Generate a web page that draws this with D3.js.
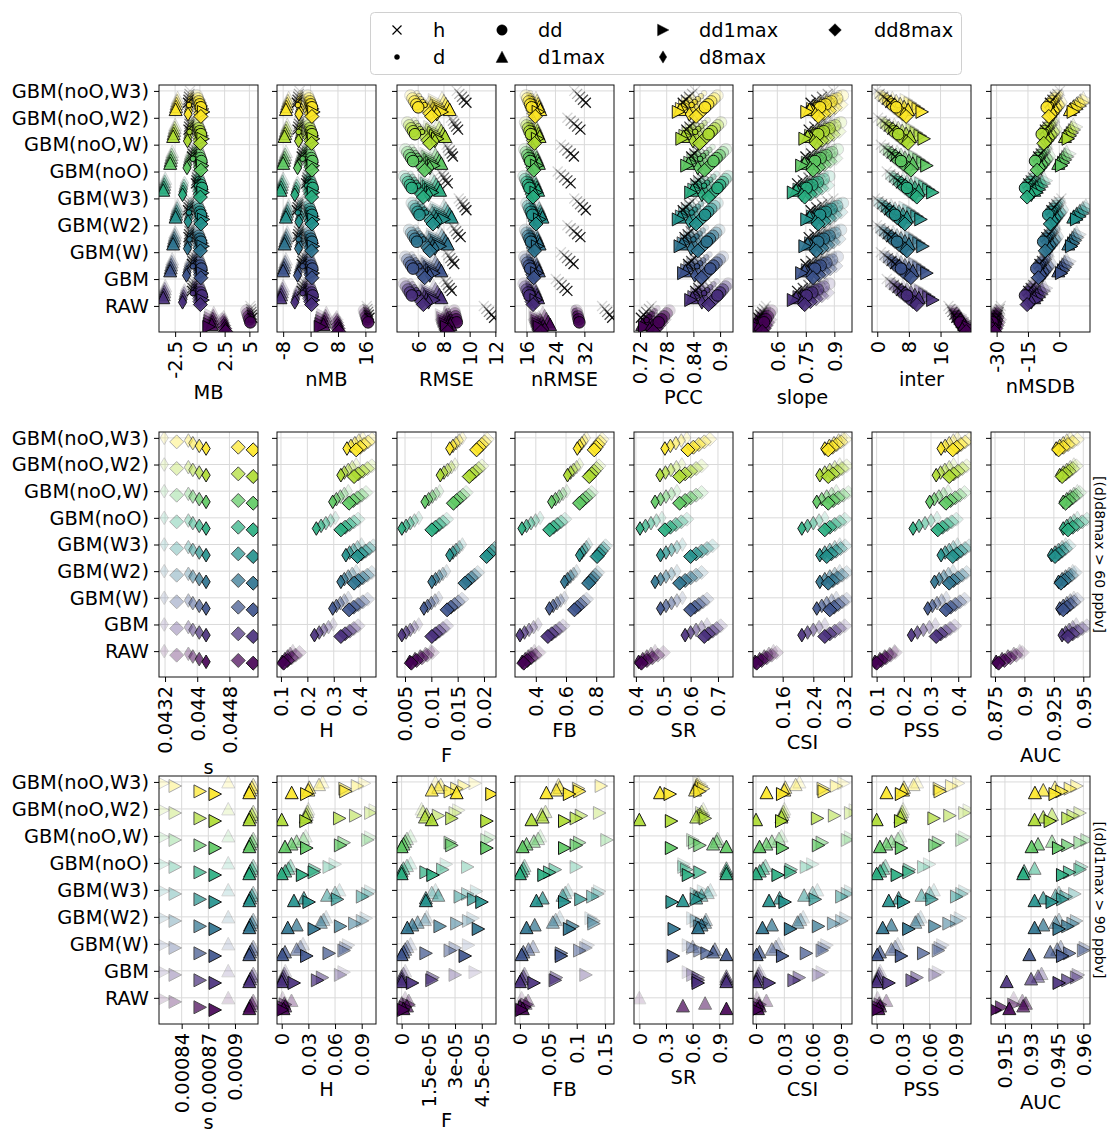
<!DOCTYPE html>
<html>
<head>
<meta charset="utf-8">
<script src="https://cdn.jsdelivr.net/npm/d3@7"></script>
<style>
body { margin: 0; background: #fff; }
svg { font-family: 'DejaVu Sans', sans-serif; }
</style>
</head>
<body>
<div class="canvas"></div>
<script>
// categories, bottom (index 0) to top
const categories = ['RAW', 'GBM', 'GBM(W)', 'GBM(W2)', 'GBM(W3)', 'GBM(noO)', 'GBM(noO,W)', 'GBM(noO,W2)', 'GBM(noO,W3)'];
const markerKeys = ['h', 'd', 'dd', 'd1max', 'dd1max', 'd8max', 'dd8max'];

// every category: 5 variants, darkest first
const mb = {
  h: [[5.3,5.25,5.2,5.15,5.1],[-0.8,-0.75,-0.7,-0.65,-0.6],[-0.8,-0.75,-0.7,-0.65,-0.6],[-1.15,-1.1,-1.05,-1,-0.95],[-1.2,-1.15,-1.1,-1.05,-1],[-0.4,-0.35,-0.3,-0.25,-0.2],[-0.8,-0.75,-0.7,-0.65,-0.6],[-1.15,-1.1,-1.05,-1,-0.95],[-1.2,-1.15,-1.1,-1.05,-1]],
  d: [[5.2,5.15,5.1,5.05,5],[-0.7,-0.65,-0.6,-0.55,-0.5],[-0.7,-0.65,-0.6,-0.55,-0.5],[-1.05,-1,-0.95,-0.9,-0.85],[-1.1,-1.05,-1,-0.95,-0.9],[-0.3,-0.25,-0.2,-0.15,-0.1],[-0.7,-0.65,-0.6,-0.55,-0.5],[-1.05,-1,-0.95,-0.9,-0.85],[-1.1,-1.05,-1,-0.95,-0.9]],
  dd: [[5.1,5,4.9,4.8,4.7],[0.2,0.1,0,-0.1,-0.2],[0.15,0.05,-0.05,-0.15,-0.25],[0.1,0,-0.1,-0.2,-0.3],[0.1,0,-0.1,-0.2,-0.3],[0.2,0.1,0,-0.1,-0.2],[0.15,0.05,-0.05,-0.15,-0.25],[0.1,0,-0.1,-0.2,-0.3],[0.1,0,-0.1,-0.2,-0.3]],
  d1max: [[1.2,1.25,1.3,1.35,1.4],[-3.7,-3.65,-3.6,-3.55,-3.5],[-3,-2.95,-2.9,-2.85,-2.8],[-2.7,-2.65,-2.6,-2.55,-2.5],[-2.45,-2.4,-2.35,-2.3,-2.25],[-3.7,-3.65,-3.6,-3.55,-3.5],[-3,-2.95,-2.9,-2.85,-2.8],[-2.7,-2.65,-2.6,-2.55,-2.5],[-2.45,-2.4,-2.35,-2.3,-2.25]],
  dd1max: [[0.9,0.95,1,1.05,1.1],[0.3,0.2,0.1,0,-0.1],[0.25,0.15,0.05,-0.05,-0.15],[0.3,0.2,0.1,0,-0.1],[0.35,0.25,0.15,0.05,-0.05],[0.3,0.2,0.1,0,-0.1],[0.25,0.15,0.05,-0.05,-0.15],[0.3,0.2,0.1,0,-0.1],[0.35,0.25,0.15,0.05,-0.05]],
  d8max: [[2.6,2.55,2.5,2.45,2.4],[-1.75,-1.7,-1.65,-1.6,-1.55],[-1.35,-1.3,-1.25,-1.2,-1.15],[-1.25,-1.2,-1.15,-1.1,-1.05],[-1.2,-1.15,-1.1,-1.05,-1],[-1.75,-1.7,-1.65,-1.6,-1.55],[-1.3,-1.25,-1.2,-1.15,-1.1],[-1.25,-1.2,-1.15,-1.1,-1.05],[-1.2,-1.15,-1.1,-1.05,-1]],
  dd8max: [[2.6,2.5,2.4,2.3,2.2],[0.05,0,-0.05,-0.1,-0.15],[0.1,0.05,0,-0.05,-0.1],[0.05,0,-0.05,-0.1,-0.15],[0.1,0.05,0,-0.05,-0.1],[0.05,0,-0.05,-0.1,-0.15],[0.1,0.05,0,-0.05,-0.1],[0.05,0,-0.05,-0.1,-0.15],[0.1,0.05,0,-0.05,-0.1]]
};

const nmb = {
  h: [[17.2,17,16.8,16.6,16.4],[-2.6,-2.4,-2.2,-2,-1.8],[-2.6,-2.4,-2.2,-2,-1.8],[-3.8,-3.6,-3.4,-3.2,-3],[-4,-3.8,-3.6,-3.4,-3.2],[-1.3,-1.1,-0.9,-0.7,-0.5],[-2.6,-2.4,-2.2,-2,-1.8],[-3.8,-3.6,-3.4,-3.2,-3],[-4,-3.8,-3.6,-3.4,-3.2]],
  d: [[16.9,16.7,16.5,16.3,16.1],[-2.3,-2.1,-1.9,-1.7,-1.5],[-2.3,-2.1,-1.9,-1.7,-1.5],[-3.5,-3.3,-3.1,-2.9,-2.7],[-3.7,-3.5,-3.3,-3.1,-2.9],[-1,-0.8,-0.6,-0.4,-0.2],[-2.3,-2.1,-1.9,-1.7,-1.5],[-3.5,-3.3,-3.1,-2.9,-2.7],[-3.7,-3.5,-3.3,-3.1,-2.9]],
  dd: [[16.8,16.5,16.2,15.9,15.6],[0.6,0.3,0,-0.3,-0.6],[0.5,0.2,-0.1,-0.4,-0.7],[0.4,0.1,-0.2,-0.5,-0.8],[0.4,0.1,-0.2,-0.5,-0.8],[0.6,0.3,0,-0.3,-0.6],[0.5,0.2,-0.1,-0.4,-0.7],[0.4,0.1,-0.2,-0.5,-0.8],[0.4,0.1,-0.2,-0.5,-0.8]],
  d1max: [[3.8,4,4.2,4.4,4.6],[-8.8,-8.6,-8.4,-8.2,-8],[-8,-7.8,-7.6,-7.4,-7.2],[-7.6,-7.4,-7.2,-7,-6.8],[-7.2,-7,-6.8,-6.6,-6.4],[-8.8,-8.6,-8.4,-8.2,-8],[-8,-7.8,-7.6,-7.4,-7.2],[-7.6,-7.4,-7.2,-7,-6.8],[-7.2,-7,-6.8,-6.6,-6.4]],
  dd1max: [[2.8,3,3.2,3.4,3.6],[0.8,0.5,0.2,-0.1,-0.4],[0.7,0.4,0.1,-0.2,-0.5],[0.8,0.5,0.2,-0.1,-0.4],[0.9,0.6,0.3,0,-0.3],[0.8,0.5,0.2,-0.1,-0.4],[0.7,0.4,0.1,-0.2,-0.5],[0.8,0.5,0.2,-0.1,-0.4],[0.9,0.6,0.3,0,-0.3]],
  d8max: [[8.4,8.2,8,7.8,7.6],[-4.6,-4.4,-4.2,-4,-3.8],[-3.8,-3.6,-3.4,-3.2,-3],[-3.5,-3.3,-3.1,-2.9,-2.7],[-3.4,-3.2,-3,-2.8,-2.6],[-4.6,-4.4,-4.2,-4,-3.8],[-3.8,-3.6,-3.4,-3.2,-3],[-3.5,-3.3,-3.1,-2.9,-2.7],[-3.4,-3.2,-3,-2.8,-2.6]],
  dd8max: [[8.2,8,7.8,7.6,7.4],[0.3,0,-0.3,-0.6,-0.9],[0.4,0.1,-0.2,-0.5,-0.8],[0.3,0,-0.3,-0.6,-0.9],[0.4,0.1,-0.2,-0.5,-0.8],[0.3,0,-0.3,-0.6,-0.9],[0.4,0.1,-0.2,-0.5,-0.8],[0.3,0,-0.3,-0.6,-0.9],[0.4,0.1,-0.2,-0.5,-0.8]]
};

const rmse = {
  h: [[11.9,11.7,11.5,11.3,11.1],[8.6,8.45,8.3,8.15,8],[8.8,8.65,8.5,8.35,8.2],[9.3,9.1,8.95,8.8,8.6],[9.75,9.6,9.45,9.3,9.15],[8.3,8.15,8,7.85,7.7],[8.7,8.6,8.45,8.3,8.2],[9.1,8.95,8.8,8.7,8.55],[9.75,9.55,9.4,9.2,9]],
  d: [[8.6,8.5,8.4,8.3,8.2],[6,5.85,5.7,5.55,5.4],[6.1,5.95,5.8,5.65,5.5],[6.4,6.25,6.1,5.95,5.8],[6.6,6.45,6.3,6.15,6],[6,5.85,5.7,5.55,5.4],[6.1,5.95,5.8,5.65,5.5],[6.3,6.15,6,5.85,5.7],[6.5,6.35,6.2,6.05,5.9]],
  dd: [[9,8.95,8.9,8.85,8.8],[5.5,5.35,5.2,5.05,4.9],[5.6,5.45,5.3,5.15,5],[5.9,5.75,5.6,5.45,5.3],[6.1,5.95,5.8,5.65,5.5],[5.5,5.35,5.2,5.05,4.9],[5.6,5.45,5.3,5.15,5],[5.75,5.6,5.45,5.3,5.15],[6,5.85,5.7,5.55,5.4]],
  d1max: [[8.5,8.4,8.3,8.2,8.1],[7.8,7.65,7.5,7.35,7.2],[7.8,7.65,7.5,7.35,7.2],[8.3,8.15,8,7.85,7.7],[8.6,8.45,8.3,8.15,8],[7.7,7.55,7.4,7.25,7.1],[7.8,7.65,7.5,7.35,7.2],[8.1,7.95,7.8,7.65,7.5],[8.45,8.3,8.15,8,7.85]],
  dd1max: [[8.2,8.1,8,7.9,7.8],[7.2,7.05,6.9,6.75,6.6],[7.2,7.05,6.9,6.75,6.6],[7.7,7.55,7.4,7.25,7.1],[8,7.85,7.7,7.55,7.4],[7.1,6.95,6.8,6.65,6.5],[7.2,7.05,6.9,6.75,6.6],[7.5,7.35,7.2,7.05,6.9],[7.85,7.7,7.55,7.4,7.25]],
  d8max: [[8.4,8.3,8.2,8.1,8],[6.8,6.65,6.5,6.35,6.2],[6.9,6.75,6.6,6.45,6.3],[7.3,7.15,7,6.85,6.7],[7.55,7.4,7.25,7.1,6.95],[6.8,6.65,6.5,6.35,6.2],[6.9,6.75,6.6,6.45,6.3],[7.3,7.15,7,6.85,6.7],[7.45,7.3,7.15,7,6.85]],
  dd8max: [[8.3,8.2,8.1,8,7.9],[6.4,6.25,6.1,5.95,5.8],[6.5,6.35,6.2,6.05,5.9],[6.9,6.75,6.6,6.45,6.3],[7.15,7,6.85,6.7,6.55],[6.4,6.25,6.1,5.95,5.8],[6.5,6.35,6.2,6.05,5.9],[6.9,6.75,6.6,6.45,6.3],[7.05,6.9,6.75,6.6,6.45]]
};

const nrmse = {
  h: [[39.7,39,38.3,37.6,36.9],[27.3,26.5,25.7,24.9,24.1],[29,28.1,27.2,26.4,25.5],[30.9,30,29.1,28.2,27.3],[32.4,31.6,30.8,30,29.2],[28.2,27.3,26.4,25.5,24.6],[29.1,28.2,27.3,26.4,25.5],[30.9,30,29.1,28.2,27.3],[32.4,31.6,30.8,30,29.2]],
  d: [[30,29.8,29.6,29.4,29.2],[17.6,17.3,17,16.7,16.4],[17.8,17.5,17.2,16.9,16.6],[18,17.7,17.4,17.1,16.8],[18.4,18.1,17.8,17.5,17.2],[17.6,17.3,17,16.7,16.4],[17.8,17.5,17.2,16.9,16.6],[18,17.7,17.4,17.1,16.8],[18.2,17.9,17.6,17.3,17]],
  dd: [[30.6,30.4,30.2,30,29.8],[16.8,16.4,16,15.6,15.2],[17,16.6,16.2,15.8,15.4],[17.2,16.8,16.4,16,15.6],[17.6,17.2,16.8,16.4,16],[16.8,16.4,16,15.6,15.2],[17,16.6,16.2,15.8,15.4],[17.2,16.8,16.4,16,15.6],[17.4,17,16.6,16.2,15.8]],
  d1max: [[22.5,22,21.5,21,20.5],[19.2,18.9,18.6,18.3,18],[19.4,19.1,18.8,18.5,18.2],[19.6,19.3,19,18.7,18.4],[20.4,20.1,19.8,19.5,19.2],[19.2,18.9,18.6,18.3,18],[19.4,19.1,18.8,18.5,18.2],[19.6,19.3,19,18.7,18.4],[19.8,19.5,19.2,18.9,18.6]],
  dd1max: [[19.5,19.2,18.9,18.6,18.3],[18.6,18.3,18,17.7,17.4],[18.8,18.5,18.2,17.9,17.6],[19,18.7,18.4,18.1,17.8],[19.6,19.3,19,18.7,18.4],[18.6,18.3,18,17.7,17.4],[18.8,18.5,18.2,17.9,17.6],[19,18.7,18.4,18.1,17.8],[19.2,18.9,18.6,18.3,18]],
  d8max: [[21,20.6,20.2,19.8,19.4],[18.3,18,17.7,17.4,17.1],[18.5,18.2,17.9,17.6,17.3],[18.7,18.4,18.1,17.8,17.5],[19.2,18.9,18.6,18.3,18],[18.3,18,17.7,17.4,17.1],[18.5,18.2,17.9,17.6,17.3],[18.7,18.4,18.1,17.8,17.5],[18.9,18.6,18.3,18,17.7]],
  dd8max: [[20,19.6,19.2,18.8,18.4],[17.8,17.5,17.2,16.9,16.6],[18,17.7,17.4,17.1,16.8],[18.2,17.9,17.6,17.3,17],[18.6,18.3,18,17.7,17.4],[17.8,17.5,17.2,16.9,16.6],[18,17.7,17.4,17.1,16.8],[18.2,17.9,17.6,17.3,17],[18.4,18.1,17.8,17.5,17.2]]
};

const pcc = {
  h: [[0.722,0.728,0.734,0.74,0.746],[0.844,0.851,0.858,0.865,0.872],[0.828,0.835,0.842,0.849,0.856],[0.82,0.827,0.834,0.841,0.848],[0.816,0.823,0.83,0.837,0.844],[0.844,0.851,0.858,0.865,0.872],[0.835,0.842,0.849,0.856,0.863],[0.824,0.831,0.838,0.845,0.852],[0.816,0.823,0.83,0.837,0.844]],
  d: [[0.735,0.741,0.747,0.753,0.759],[0.864,0.871,0.878,0.885,0.892],[0.848,0.855,0.862,0.869,0.876],[0.84,0.847,0.854,0.861,0.868],[0.836,0.843,0.85,0.857,0.864],[0.864,0.871,0.878,0.885,0.892],[0.855,0.862,0.869,0.876,0.883],[0.844,0.851,0.858,0.865,0.872],[0.836,0.843,0.85,0.857,0.864]],
  dd: [[0.762,0.768,0.774,0.78,0.786],[0.894,0.9,0.906,0.912,0.918],[0.878,0.885,0.892,0.899,0.906],[0.87,0.877,0.884,0.891,0.898],[0.866,0.873,0.88,0.887,0.894],[0.894,0.9,0.906,0.912,0.918],[0.885,0.892,0.899,0.906,0.913],[0.874,0.881,0.888,0.895,0.902],[0.866,0.873,0.88,0.887,0.894]],
  d1max: [[0.725,0.731,0.737,0.743,0.749],[0.838,0.845,0.852,0.859,0.866],[0.822,0.829,0.836,0.843,0.85],[0.814,0.821,0.828,0.835,0.842],[0.81,0.817,0.824,0.831,0.838],[0.838,0.845,0.852,0.859,0.866],[0.829,0.836,0.843,0.85,0.857],[0.818,0.825,0.832,0.839,0.846],[0.81,0.817,0.824,0.831,0.838]],
  dd1max: [[0.73,0.736,0.742,0.748,0.754],[0.834,0.841,0.848,0.855,0.862],[0.818,0.825,0.832,0.839,0.846],[0.81,0.817,0.824,0.831,0.838],[0.806,0.813,0.82,0.827,0.834],[0.834,0.841,0.848,0.855,0.862],[0.825,0.832,0.839,0.846,0.853],[0.814,0.821,0.828,0.835,0.842],[0.806,0.813,0.82,0.827,0.834]],
  d8max: [[0.742,0.748,0.754,0.76,0.766],[0.859,0.866,0.873,0.88,0.887],[0.843,0.85,0.857,0.864,0.871],[0.835,0.842,0.849,0.856,0.863],[0.831,0.838,0.845,0.852,0.859],[0.859,0.866,0.873,0.88,0.887],[0.85,0.857,0.864,0.871,0.878],[0.839,0.846,0.853,0.86,0.867],[0.831,0.838,0.845,0.852,0.859]],
  dd8max: [[0.75,0.756,0.762,0.768,0.774],[0.874,0.881,0.888,0.895,0.902],[0.858,0.865,0.872,0.879,0.886],[0.85,0.857,0.864,0.871,0.878],[0.846,0.853,0.86,0.867,0.874],[0.874,0.881,0.888,0.895,0.902],[0.865,0.872,0.879,0.886,0.893],[0.854,0.861,0.868,0.875,0.882],[0.846,0.853,0.86,0.867,0.874]]
};

const slope = {
  h: [[0.5,0.51,0.52,0.53,0.54],[0.704,0.734,0.764,0.794,0.824],[0.748,0.778,0.808,0.838,0.868],[0.765,0.795,0.825,0.855,0.885],[0.775,0.805,0.835,0.865,0.895],[0.704,0.734,0.764,0.794,0.824],[0.748,0.778,0.808,0.838,0.868],[0.765,0.795,0.825,0.855,0.885],[0.775,0.805,0.835,0.865,0.895]],
  d: [[0.51,0.52,0.53,0.54,0.55],[0.734,0.764,0.794,0.824,0.854],[0.778,0.808,0.838,0.868,0.898],[0.795,0.825,0.855,0.885,0.915],[0.805,0.835,0.865,0.895,0.925],[0.734,0.764,0.794,0.824,0.854],[0.778,0.808,0.838,0.868,0.898],[0.795,0.825,0.855,0.885,0.915],[0.805,0.835,0.865,0.895,0.925]],
  dd: [[0.53,0.54,0.55,0.56,0.57],[0.754,0.784,0.814,0.844,0.874],[0.798,0.828,0.858,0.888,0.918],[0.815,0.845,0.875,0.905,0.935],[0.825,0.855,0.885,0.915,0.945],[0.754,0.784,0.814,0.844,0.874],[0.798,0.828,0.858,0.888,0.918],[0.815,0.845,0.875,0.905,0.935],[0.825,0.855,0.885,0.915,0.945]],
  d1max: [[0.48,0.49,0.5,0.51,0.52],[0.699,0.729,0.759,0.789,0.819],[0.743,0.773,0.803,0.833,0.863],[0.76,0.79,0.82,0.85,0.88],[0.77,0.8,0.83,0.86,0.89],[0.699,0.729,0.759,0.789,0.819],[0.743,0.773,0.803,0.833,0.863],[0.76,0.79,0.82,0.85,0.88],[0.77,0.8,0.83,0.86,0.89]],
  dd1max: [[0.49,0.5,0.51,0.52,0.53],[0.684,0.714,0.744,0.774,0.804],[0.728,0.758,0.788,0.818,0.848],[0.745,0.775,0.805,0.835,0.865],[0.755,0.785,0.815,0.845,0.875],[0.684,0.714,0.744,0.774,0.804],[0.728,0.758,0.788,0.818,0.848],[0.745,0.775,0.805,0.835,0.865],[0.755,0.785,0.815,0.845,0.875]],
  d8max: [[0.5,0.51,0.52,0.53,0.54],[0.729,0.759,0.789,0.819,0.849],[0.773,0.803,0.833,0.863,0.893],[0.79,0.82,0.85,0.88,0.91],[0.8,0.83,0.86,0.89,0.92],[0.729,0.759,0.789,0.819,0.849],[0.773,0.803,0.833,0.863,0.893],[0.79,0.82,0.85,0.88,0.91],[0.8,0.83,0.86,0.89,0.92]],
  dd8max: [[0.52,0.53,0.54,0.55,0.56],[0.744,0.774,0.804,0.834,0.864],[0.788,0.818,0.848,0.878,0.908],[0.805,0.835,0.865,0.895,0.925],[0.815,0.845,0.875,0.905,0.935],[0.744,0.774,0.804,0.834,0.864],[0.788,0.818,0.848,0.878,0.908],[0.805,0.835,0.865,0.895,0.925],[0.815,0.845,0.875,0.905,0.935]]
};

const inter = {
  h: [[20,19.5,19,18.5,18],[6,5.1,4.2,3.3,2.4],[4.5,3.6,2.7,1.8,0.9],[3.5,2.6,1.7,0.8,-0.1],[3,2.1,1.2,0.3,-0.6],[6,5.1,4.2,3.3,2.4],[4.5,3.6,2.7,1.8,0.9],[3.8,2.9,2,1.1,0.2],[3.3,2.4,1.5,0.6,-0.3]],
  d: [[20.5,20,19.5,19,18.5],[8,7,6,5,4],[6.5,5.5,4.5,3.5,2.5],[5.5,4.5,3.5,2.5,1.5],[5,4,3,2,1],[8,7,6,5,4],[6.5,5.5,4.5,3.5,2.5],[5.8,4.8,3.8,2.8,1.8],[5.3,4.3,3.3,2.3,1.3]],
  dd: [[21,20.6,20.2,19.8,19.4],[7.5,6.5,5.5,4.5,3.5],[6,5,4,3,2],[5,4,3,2,1],[4.5,3.5,2.5,1.5,0.5],[7.5,6.5,5.5,4.5,3.5],[6,5,4,3,2],[5.3,4.3,3.3,2.3,1.3],[4.8,3.8,2.8,1.8,0.8]],
  d1max: [[22,21.5,21,20.5,20],[10.5,9.5,8.5,7.5,6.5],[9,8,7,6,5],[8,7,6,5,4],[7.5,6.5,5.5,4.5,3.5],[10.5,9.5,8.5,7.5,6.5],[9,8,7,6,5],[8.3,7.3,6.3,5.3,4.3],[7.8,6.8,5.8,4.8,3.8]],
  dd1max: [[23,22.5,22,21.5,21],[14,13,12,11,10],[12.5,11.5,10.5,9.5,8.5],[11.5,10.5,9.5,8.5,7.5],[11,10,9,8,7],[14,13,12,11,10],[12.5,11.5,10.5,9.5,8.5],[11.8,10.8,9.8,8.8,7.8],[11.3,10.3,9.3,8.3,7.3]],
  d8max: [[21.5,21,20.5,20,19.5],[9.5,8.5,7.5,6.5,5.5],[8,7,6,5,4],[7,6,5,4,3],[6.5,5.5,4.5,3.5,2.5],[9.5,8.5,7.5,6.5,5.5],[8,7,6,5,4],[7.3,6.3,5.3,4.3,3.3],[6.8,5.8,4.8,3.8,2.8]],
  dd8max: [[22.5,22,21.5,21,20.5],[10,9,8,7,6],[8.5,7.5,6.5,5.5,4.5],[7.5,6.5,5.5,4.5,3.5],[7,6,5,4,3],[10,9,8,7,6],[8.5,7.5,6.5,5.5,4.5],[7.8,6.8,5.8,4.8,3.8],[7.3,6.3,5.3,4.3,3.3]]
};

const nmsdb = {
  h: [[-30,-29.5,-29,-28.5,-28],[-14.9,-13.7,-12.5,-11.3,-10.1],[-9.5,-8.3,-7.1,-5.9,-4.7],[-6.2,-5,-3.8,-2.6,-1.4],[-3.8,-2.6,-1.4,-0.2,1],[-14.9,-13.7,-12.5,-11.3,-10.1],[-10.1,-8.9,-7.7,-6.5,-5.3],[-6.9,-5.7,-4.5,-3.3,-2.1],[-4.5,-3.3,-2.1,-0.9,0.3]],
  d: [[-31.5,-31,-30.5,-30,-29.5],[-14.4,-13.2,-12,-10.8,-9.6],[-9,-7.8,-6.6,-5.4,-4.2],[-5.7,-4.5,-3.3,-2.1,-0.9],[-3.3,-2.1,-0.9,0.3,1.5],[-14.4,-13.2,-12,-10.8,-9.6],[-9.6,-8.4,-7.2,-6,-4.8],[-6.4,-5.2,-4,-2.8,-1.6],[-4,-2.8,-1.6,-0.4,0.8]],
  dd: [[-32,-31.4,-30.8,-30.2,-29.6],[-16.4,-15.2,-14,-12.8,-11.6],[-11,-9.8,-8.6,-7.4,-6.2],[-7.7,-6.5,-5.3,-4.1,-2.9],[-5.3,-4.1,-2.9,-1.7,-0.5],[-16.4,-15.2,-14,-12.8,-11.6],[-11.6,-10.4,-9.2,-8,-6.8],[-8.4,-7.2,-6,-4.8,-3.6],[-6,-4.8,-3.6,-2.4,-1.2]],
  d1max: [[-32.4,-31.8,-31.2,-30.6,-30],[-12,-10.8,-9.6,-8.4,-7.2],[-0.5,0.5,1.5,2.5,3.5],[4.3,5.3,6.3,7.3,8.3],[6.7,8.2,9.7,11.2,12.7],[-12,-10.8,-9.6,-8.4,-7.2],[-0.5,0.5,1.5,2.5,3.5],[2.7,3.7,4.7,5.7,6.7],[5.1,6.7,8.3,9.9,11.5]],
  dd1max: [[-31,-30.5,-30,-29.5,-29],[-11,-9.8,-8.6,-7.4,-6.2],[1,2,3,4,5],[5.8,6.8,7.8,8.8,9.8],[8.2,9.7,11.2,12.7,14.2],[-11,-9.8,-8.6,-7.4,-6.2],[1,2,3,4,5],[4.2,5.2,6.2,7.2,8.2],[6.6,8.2,9.8,11.4,13]],
  d8max: [[-30.5,-30,-29.5,-29,-28.5],[-13.4,-12.2,-11,-9.8,-8.6],[-8,-6.8,-5.6,-4.4,-3.2],[-4.7,-3.5,-2.3,-1.1,0.1],[-2.3,-1.1,0.1,1.3,2.5],[-13.4,-12.2,-11,-9.8,-8.6],[-8.6,-7.4,-6.2,-5,-3.8],[-5.4,-4.2,-3,-1.8,-0.6],[-3,-1.8,-0.6,0.6,1.8]],
  dd8max: [[-31,-30.4,-29.8,-29.2,-28.6],[-15.4,-14.2,-13,-11.8,-10.6],[-10,-8.8,-7.6,-6.4,-5.2],[-6.7,-5.5,-4.3,-3.1,-1.9],[-4.3,-3.1,-1.9,-0.7,0.5],[-15.4,-14.2,-13,-11.8,-10.6],[-10.6,-9.4,-8.2,-7,-5.8],[-7.4,-6.2,-5,-3.8,-2.6],[-5,-3.8,-2.6,-1.4,-0.2]]
};

// row 2: (d)d8max > 60 ppbv
const r2sThin = [0.04422, 0.04405, 0.04389, 0.04378, 0.04318];
const r2sBig = [0.04539, 0.04502, null, 0.04349, null];
const r2H = {
  d8max: [[0.105,0.115,0.125,0.135,0.145],[0.227,0.245,0.262,0.28,0.298],[0.296,0.31,0.325,0.34,0.355],[0.327,0.34,0.355,0.37,0.385],[0.346,0.36,0.375,0.39,0.405],[0.234,0.252,0.27,0.288,0.306],[0.296,0.31,0.325,0.34,0.355],[0.327,0.34,0.355,0.37,0.385],[0.35,0.365,0.38,0.395,0.41]],
  dd8max: [[0.11,0.125,0.14,0.155,0.17],[0.327,0.343,0.36,0.376,0.392],[0.358,0.375,0.392,0.41,0.428],[0.377,0.393,0.41,0.427,0.444],[0.39,0.405,0.42,0.435,0.45],[0.327,0.343,0.36,0.376,0.392],[0.358,0.374,0.39,0.406,0.422],[0.377,0.393,0.41,0.427,0.444],[0.385,0.4,0.415,0.43,0.445]]
};
const r2F = {
  d8max: [[0.0059,0.0069,0.0079,0.0089,0.0099],[0.0044,0.0052,0.006,0.0068,0.0076],[0.0086,0.0093,0.01,0.0107,0.0114],[0.0101,0.0108,0.0115,0.0122,0.0129],[0.0135,0.0141,0.0147,0.0153,0.0159],[0.0044,0.0052,0.006,0.0068,0.0076],[0.0088,0.0095,0.0102,0.0109,0.0116],[0.0117,0.0124,0.0131,0.0138,0.0145],[0.0135,0.0141,0.0147,0.0153,0.0159]],
  dd8max: [[0.0062,0.0072,0.0082,0.0092,0.0102],[0.0101,0.0108,0.0115,0.0122,0.0129],[0.013,0.0137,0.0144,0.0151,0.0158],[0.0164,0.017,0.0176,0.0182,0.0188],[0.0205,0.021,0.0215,0.022,0.0225],[0.0101,0.0108,0.0115,0.0122,0.0129],[0.0142,0.0148,0.0154,0.016,0.0166],[0.0172,0.0178,0.0184,0.019,0.0196],[0.0186,0.0191,0.0196,0.0201,0.0206]]
};
const r2FB = {
  d8max: [[0.31,0.33,0.35,0.37,0.39],[0.295,0.325,0.355,0.385,0.415],[0.49,0.515,0.54,0.565,0.59],[0.59,0.61,0.63,0.65,0.67],[0.69,0.705,0.72,0.735,0.75],[0.308,0.338,0.368,0.398,0.428],[0.505,0.53,0.555,0.58,0.605],[0.61,0.63,0.65,0.67,0.69],[0.675,0.69,0.705,0.72,0.735]],
  dd8max: [[0.32,0.345,0.37,0.395,0.42],[0.48,0.505,0.53,0.555,0.58],[0.656,0.676,0.696,0.716,0.736],[0.75,0.765,0.78,0.795,0.81],[0.806,0.82,0.834,0.848,0.862],[0.492,0.517,0.542,0.567,0.592],[0.69,0.71,0.73,0.75,0.77],[0.754,0.77,0.786,0.802,0.818],[0.787,0.8,0.813,0.826,0.839]]
};
const r2SR = {
  d8max: [[0.41,0.425,0.44,0.455,0.47],[0.58,0.6,0.62,0.64,0.66],[0.49,0.51,0.53,0.55,0.57],[0.47,0.49,0.51,0.53,0.55],[0.49,0.51,0.53,0.55,0.57],[0.415,0.435,0.455,0.475,0.495],[0.47,0.49,0.51,0.53,0.55],[0.488,0.508,0.528,0.548,0.568],[0.506,0.526,0.546,0.566,0.586]],
  dd8max: [[0.42,0.44,0.46,0.48,0.5],[0.65,0.665,0.68,0.695,0.71],[0.6,0.615,0.63,0.645,0.66],[0.56,0.58,0.6,0.62,0.64],[0.6,0.62,0.64,0.66,0.68],[0.506,0.526,0.546,0.566,0.586],[0.56,0.58,0.6,0.62,0.64],[0.56,0.58,0.6,0.62,0.64],[0.59,0.61,0.63,0.65,0.67]]
};
const r2CSI = {
  d8max: [[0.088,0.1,0.112,0.124,0.136],[0.21,0.225,0.24,0.255,0.27],[0.249,0.262,0.275,0.288,0.3],[0.257,0.27,0.283,0.296,0.309],[0.257,0.27,0.283,0.296,0.309],[0.21,0.225,0.24,0.255,0.27],[0.249,0.262,0.275,0.288,0.3],[0.257,0.27,0.283,0.296,0.309],[0.27,0.282,0.294,0.306,0.318]],
  dd8max: [[0.092,0.105,0.118,0.131,0.144],[0.27,0.283,0.296,0.309,0.322],[0.283,0.294,0.305,0.316,0.327],[0.279,0.291,0.303,0.315,0.327],[0.275,0.287,0.299,0.311,0.323],[0.27,0.283,0.296,0.309,0.322],[0.279,0.292,0.305,0.318,0.331],[0.279,0.291,0.303,0.315,0.327],[0.279,0.29,0.301,0.312,0.323]]
};
const r2PSS = {
  d8max: [[0.094,0.112,0.13,0.148,0.166],[0.228,0.25,0.272,0.294,0.316],[0.288,0.305,0.322,0.339,0.356],[0.313,0.33,0.347,0.364,0.381],[0.337,0.352,0.367,0.382,0.397],[0.234,0.256,0.278,0.3,0.322],[0.295,0.312,0.329,0.346,0.363],[0.319,0.335,0.351,0.367,0.383],[0.337,0.352,0.367,0.382,0.397]],
  dd8max: [[0.1,0.117,0.134,0.151,0.168],[0.319,0.336,0.353,0.37,0.387],[0.355,0.372,0.389,0.406,0.423],[0.367,0.383,0.399,0.415,0.431],[0.38,0.395,0.41,0.425,0.44],[0.325,0.342,0.359,0.376,0.393],[0.355,0.372,0.389,0.406,0.423],[0.367,0.383,0.399,0.415,0.431],[0.38,0.395,0.41,0.425,0.44]]
};
const r2AUC = {
  d8max: [[0.876,0.881,0.886,0.891,0.896],[0.932,0.935,0.938,0.941,0.944],[0.93,0.933,0.936,0.939,0.942],[0.929,0.932,0.935,0.938,0.941],[0.923,0.926,0.929,0.932,0.935],[0.933,0.936,0.939,0.942,0.945],[0.933,0.936,0.939,0.942,0.945],[0.93,0.933,0.936,0.939,0.942],[0.927,0.93,0.933,0.936,0.939]],
  dd8max: [[0.878,0.883,0.888,0.893,0.898],[0.937,0.941,0.945,0.949,0.953],[0.933,0.936,0.939,0.942,0.945],[0.931,0.934,0.937,0.94,0.943],[0.926,0.929,0.932,0.935,0.938],[0.937,0.941,0.945,0.949,0.953],[0.935,0.938,0.941,0.944,0.947],[0.932,0.935,0.938,0.941,0.944],[0.929,0.933,0.937,0.941,0.945]]
};

// row 3: (d)d1max > 90 ppbv
const r3sUp = [0.0009161, 0.000917, 0.000919, 0.0009206, 0.0008924];
const r3sRight = [0.0008775, 0.0008606, null, 0.0008325, 0.0008193];
const r3H = {
  d1max: [[0.002,0.004,0.003,0.011,0.001],[0,0.001,0.002,0.003,0.004],[0.0007,0.0037,0.0168,0.021,0.024],[0.0068,0.0168,0.044,0.047,0.05],[0.0138,0.025,0.051,0.06,0.065],[0,0.004,0.0075,0.01,null],[0.0037,0.011,0.0168,0.0243,0.027],[0,0.027,0.028,0.029,0.03],[0.0112,0.03,0.031,0.042,0.046]],
  dd1max: [[0.0007,0.002,0.004,null,null],[0.0138,0.0401,0.0457,0.066,0.07],[0.028,0.0532,0.07,0.072,0.075],[0.0364,0.066,0.082,0.0907,0.095],[0.0306,0.0626,0.0907,0.0967,0.1],[0.0232,0.0364,0.037,0.0532,0.06],[0.028,0.066,0.07,0.0967,0.1],[0.027,0.065,0.083,0.1,0.105],[0.028,0.072,0.071,0.085,0.093]]
};
const r3F = {
  d1max: [[1e-6,3e-6,0,4e-6,2e-6],[0,0,0,1e-6,2e-6],[0,1e-6,2e-6,3.2e-6,5e-6],[3.2e-6,6e-6,9e-6,1.31e-5,1.4e-5],[1.36e-5,1.36e-5,2.06e-5,1.69e-5,1.9e-5],[0,0,1e-6,3e-6,5e-6],[0,1e-6,2e-6,3e-6,5e-6],[1.69e-5,1.31e-5,1.4e-5,1.2e-5,1.12e-5],[3.09e-5,1.69e-5,2.06e-5,2.2e-5,1.9e-5]],
  dd1max: [[1e-6,2e-6,4e-6,null,null],[6e-6,1.69e-5,1.75e-5,3e-5,4.12e-5],[3.56e-5,1.36e-5,2.72e-5,3e-5,3.75e-5],[4.3e-5,2.15e-5,3.09e-5,3.75e-5,4e-5],[4.5e-5,4.03e-5,3.28e-5,3.7e-5,4.2e-5],[1.75e-5,1.36e-5,2.3e-5,3.7e-5,2.5e-5],[4.78e-5,2.81e-5,2.72e-5,4.78e-5,5e-5],[4.78e-5,2.81e-5,2.06e-5,3e-5,3.2e-5],[5.06e-5,2.72e-5,3.09e-5,3.5e-5,4.12e-5]]
};
const r3FB = {
  d1max: [[0.005,0,0.01,0.0145,0.003],[0,0.003,0.006,0.008,null],[0.003,0.006,0.015,0.0232,null],[0.0116,0.026,0.058,0.063,0.07],[0.029,0.04,0.075,0.08,0.085],[0,0.003,0.006,0.008,null],[0.0047,0.0116,0.0245,0.032,0.036],[0.0204,0.04,0.038,0.045,null],[0.0466,0.064,0.07,0.068,null]],
  dd1max: [[0.003,0.008,0.012,null,null],[0.0245,0.062,0.064,0.116,null],[0.0727,0.0727,0.105,0.116,0.12],[0.087,0.093,0.13,0.13,0.125],[0.0785,0.107,0.128,0.137,0.14],[0.042,0.052,0.062,0.099,null],[0.0785,0.099,0.105,0.153,null],[0.0785,0.099,0.108,0.14,null],[0.087,0.105,0.103,0.143,null]]
};
const r3SR = {
  d1max: [[0.98,0.49,0.74,null,0],[0.98,0.98,0.98,null,null],[0.98,0.83,0.85,0.6,null],[0.66,0.7,0.74,0.75,null],[0.49,0.64,0.7,0.77,0.8],[0.98,0.98,0.98,null,null],[0.98,0.83,0.87,0.88,null],[0,0.64,0.68,0.7,0.72],[0.233,0.627,0.64,0.65,0.66]],
  dd1max: [[null,null,null,null,null],[0.66,0.66,0.66,0.6,0.55],[0.38,0.76,0.68,0.6,0.55],[0.39,0.68,0.7,0.64,0.6],[0.367,0.64,0.68,0.64,0.72],[0.55,0.68,0.53,0.5,0.5],[0.36,0.68,0.62,0.6,null],[0.36,0.74,0.72,0.7,null],[0.345,0.68,0.72,0.7,0.68]]
};
const r3CSI = r3H;
const r3PSS = r3H;
const r3AUC = {
  d1max: [[0.9175,0.9255,0.927,0.925,0.92],[0.916,0.93,0.934,0.936,null],[0.929,0.941,0.945,0.947,null],[0.932,0.937,0.944,0.946,null],[0.932,0.937,0.944,0.946,null],[0.9255,0.926,0.932,null,null],[0.9303,0.934,0.942,null,null],[0.932,0.937,0.942,null,null],[0.9322,0.937,0.9437,null,null]],
  dd1max: [[0.9093,0.913,0.92,null,null],[0.946,0.951,0.956,0.957,null],[0.948,0.952,0.96,0.961,null],[0.946,0.951,0.954,0.956,null],[0.942,0.948,0.95,0.955,null],[0.948,0.952,0.958,0.959,null],[0.9457,0.951,0.958,0.962,null],[0.9409,0.951,0.954,0.958,null],[0.9437,0.9476,0.9524,0.9562,null]]
};

// ---------------- layout ----------------
const colLeft = [159, 277, 397, 515, 634, 753, 872, 991];
const colWidth = 99;
const rowBox = [[85, 332], [432, 677], [776, 1024]];
const yDomain = [-0.97, 8.22];
const alphas = [0.9, 0.7, 0.5, 0.32, 0.16];
const fontSize = 19.4;

const rows = [
  { markers: markerKeys, mStep: 0.085, vStep: 0.11, panels: [
    { label: 'MB', domain: [-4.13, 5.87], ticks: [-2.5, 0, 2.5, 5], labels: ['-2.5', '0', '2.5', '5'], data: mb },
    { label: 'nMB', domain: [-9.8, 19.1], ticks: [-8, 0, 8, 16], labels: ['-8', '0', '8', '16'], data: nmb },
    { label: 'RMSE', domain: [4.35, 12.05], ticks: [6, 8, 10, 12], labels: ['6', '8', '10', '12'], data: rmse },
    { label: 'nRMSE', domain: [12.8, 40.2], ticks: [16, 24, 32], labels: ['16', '24', '32'], data: nrmse },
    { label: 'PCC', domain: [0.7065, 0.929], ticks: [0.72, 0.78, 0.84, 0.9], labels: ['0.72', '0.78', '0.84', '0.9'], data: pcc },
    { label: 'slope', domain: [0.472, 0.993], ticks: [0.6, 0.75, 0.9], labels: ['0.6', '0.75', '0.9'], data: slope },
    { label: 'inter', domain: [-1.33, 23.7], ticks: [0, 8, 16], labels: ['0', '8', '16'], data: inter },
    { label: 'nMSDB', domain: [-32.7, 14.7], ticks: [-30, -15, 0], labels: ['-30', '-15', '0'], data: nmsdb }
  ]},
  { markers: ['d8max', 'dd8max'], mStep: 0.05, vStep: 0.1, side: '[(d)d8max > 60 ppbv]', panels: [
    { label: 's', domain: [0.04305, 0.04551], ticks: [0.0432, 0.044, 0.0448], labels: ['0.0432', '0.044', '0.0448'],
      data: { d8max: categories.map(() => r2sThin), dd8max: categories.map(() => r2sBig) } },
    { label: 'H', domain: [0.085, 0.46], ticks: [0.1, 0.2, 0.3, 0.4], labels: ['0.1', '0.2', '0.3', '0.4'], data: r2H },
    { label: 'F', domain: [0.00348, 0.02228], ticks: [0.005, 0.01, 0.015, 0.02], labels: ['0.005', '0.01', '0.015', '0.02'], data: r2F },
    { label: 'FB', domain: [0.262, 0.918], ticks: [0.4, 0.6, 0.8], labels: ['0.4', '0.6', '0.8'], data: r2FB },
    { label: 'SR', domain: [0.393, 0.755], ticks: [0.4, 0.5, 0.6, 0.7], labels: ['0.4', '0.5', '0.6', '0.7'], data: r2SR },
    { label: 'CSI', domain: [0.0825, 0.341], ticks: [0.16, 0.24, 0.32], labels: ['0.16', '0.24', '0.32'], data: r2CSI },
    { label: 'PSS', domain: [0.083, 0.447], ticks: [0.1, 0.2, 0.3, 0.4], labels: ['0.1', '0.2', '0.3', '0.4'], data: r2PSS },
    { label: 'AUC', domain: [0.8716, 0.9557], ticks: [0.875, 0.9, 0.925, 0.95], labels: ['0.875', '0.9', '0.925', '0.95'], data: r2AUC }
  ]},
  { markers: ['d1max', 'dd1max'], mStep: 0.05, vStep: 0.1, side: '[(d)d1max > 90 ppbv]', panels: [
    { label: 's', domain: [0.0008145, 0.0009259], ticks: [0.00084, 0.00087, 0.0009], labels: ['0.00084', '0.00087', '0.0009'],
      data: { d1max: categories.map(() => r3sUp), dd1max: categories.map(() => r3sRight) } },
    { label: 'H', domain: [-0.0053, 0.1061], ticks: [0, 0.03, 0.06, 0.09], labels: ['0', '0.03', '0.06', '0.09'], data: r3H },
    { label: 'F', domain: [-2.6e-6, 5.3e-5], ticks: [0, 1.5e-5, 3e-5, 4.5e-5], labels: ['0', '1.5e-05', '3e-05', '4.5e-05'], data: r3F },
    { label: 'FB', domain: [-0.0087, 0.1657], ticks: [0, 0.05, 0.1, 0.15], labels: ['0', '0.05', '0.1', '0.15'], data: r3FB },
    { label: 'SR', domain: [-0.06, 1.054], ticks: [0, 0.3, 0.6, 0.9], labels: ['0', '0.3', '0.6', '0.9'], data: r3SR },
    { label: 'CSI', domain: [-0.0032, 0.1017], ticks: [0, 0.03, 0.06, 0.09], labels: ['0', '0.03', '0.06', '0.09'], data: r3CSI },
    { label: 'PSS', domain: [-0.0053, 0.1072], ticks: [0, 0.03, 0.06, 0.09], labels: ['0', '0.03', '0.06', '0.09'], data: r3PSS },
    { label: 'AUC', domain: [0.907, 0.9638], ticks: [0.915, 0.93, 0.945, 0.96], labels: ['0.915', '0.93', '0.945', '0.96'], data: r3AUC }
  ]}
];

const circlePath = r => `M${r},0A${r},${r} 0 1,1 ${-r},0A${r},${r} 0 1,1 ${r},0Z`;
const shapes = {
  h: 'M-5,-5L5,5M-5,5L5,-5',
  d: circlePath(2.8),
  dd: circlePath(5.8),
  d1max: 'M0,-6.5L6.5,6L-6.5,6Z',
  dd1max: 'M6.5,0L-6,-6.5L-6,6.5Z',
  d8max: 'M0,-6.8L4.1,0L0,6.8L-4.1,0Z',
  dd8max: 'M0,-7L7,0L0,7L-7,0Z'
};
const color = i => d3.interpolateViridis(i / (categories.length - 1));

const svg = d3.select('.canvas')
  .append('svg')
  .attr('width', 1113)
  .attr('height', 1132);
const defs = svg.append('defs');

function drawPanel(row, p, ri, ci) {
  const [top, bottom] = rowBox[ri];
  const left = colLeft[ci];
  const x = d3.scaleLinear().domain(p.domain).range([left, left + colWidth]);
  const y = d3.scaleLinear().domain(yDomain).range([bottom, top]);
  const clipId = `clip-${ri}-${ci}`;

  defs.append('clipPath').attr('id', clipId)
    .append('rect')
    .attr('x', left).attr('y', top)
    .attr('width', colWidth).attr('height', bottom - top);

  // grid
  const grid = svg.append('g').attr('stroke', '#dadada').attr('stroke-width', 1);
  grid.selectAll('line.gx').data(p.ticks).join('line').attr('class', 'gx')
    .attr('x1', d => x(d)).attr('x2', d => x(d))
    .attr('y1', top).attr('y2', bottom);
  grid.selectAll('line.gy').data(categories).join('line').attr('class', 'gy')
    .attr('x1', left).attr('x2', left + colWidth)
    .attr('y1', (d, i) => y(i)).attr('y2', (d, i) => y(i));

  // points
  const pts = [];
  row.markers.forEach((m, mi) => {
    p.data[m].forEach((vals, k) => {
      vals.forEach((v, j) => {
        if (v === null) return;
        pts.push({ m, k, j, v, off: mi * row.mStep + (4 - j) * row.vStep });
      });
    });
  });
  pts.sort((a, b) => a.k - b.k || b.j - a.j);

  svg.append('g')
    .attr('clip-path', `url(#${clipId})`)
    .selectAll('path')
    .data(pts)
    .join('path')
    .attr('d', d => shapes[d.m])
    .attr('transform', d => `translate(${x(d.v)},${y(d.k - d.off)})`)
    .attr('fill', d => d.m === 'h' ? 'none' : color(d.k))
    .attr('stroke', '#000')
    .attr('stroke-width', d => d.m === 'h' ? 1.3 : 1)
    .attr('opacity', d => alphas[d.j]);

  // frame
  svg.append('rect')
    .attr('x', left).attr('y', top)
    .attr('width', colWidth).attr('height', bottom - top)
    .attr('fill', 'none').attr('stroke', '#111').attr('stroke-width', 1);

  // x axis
  const xa = svg.append('g')
    .attr('transform', `translate(0,${bottom})`)
    .call(d3.axisBottom(x).tickValues(p.ticks).tickFormat((d, i) => p.labels[i]).tickSize(5));
  xa.select('.domain').remove();
  xa.attr('font-size', fontSize).attr('font-family', 'DejaVu Sans');
  xa.selectAll('line').attr('stroke', '#000');
  xa.selectAll('text')
    .attr('fill', '#000')
    .attr('transform', 'rotate(-90)')
    .attr('x', -9).attr('y', 0).attr('dy', '0.35em')
    .attr('text-anchor', 'end');

  let maxLen = 0;
  xa.selectAll('text').each(function () { maxLen = Math.max(maxLen, this.getComputedTextLength()); });

  svg.append('text')
    .attr('x', left + colWidth / 2)
    .attr('y', Math.min(bottom + 9 + maxLen + 20, 1129))
    .attr('text-anchor', 'middle')
    .attr('font-size', fontSize)
    .text(p.label);

  // y axis
  const ya = svg.append('g')
    .attr('transform', `translate(${left},0)`)
    .call(d3.axisLeft(y).tickValues(d3.range(categories.length))
      .tickFormat(i => ci === 0 ? categories[i] : '')
      .tickSize(5).tickPadding(5));
  ya.select('.domain').remove();
  ya.attr('font-size', fontSize).attr('font-family', 'DejaVu Sans');
  ya.selectAll('line').attr('stroke', '#000');
  ya.selectAll('text').attr('fill', '#000');
}

rows.forEach((row, ri) => {
  row.panels.forEach((p, ci) => drawPanel(row, p, ri, ci));
  if (row.side) {
    const [top, bottom] = rowBox[ri];
    svg.append('text')
      .attr('transform', `translate(1100,${(top + bottom) / 2}) rotate(90)`)
      .attr('text-anchor', 'middle')
      .attr('dy', '0.35em')
      .attr('font-size', 14)
      .text(row.side);
  }
});

// legend
const legendItems = [
  { m: 'h', label: 'h', mx: 397, tx: 433, y: 30 },
  { m: 'd', label: 'd', mx: 397, tx: 433, y: 57 },
  { m: 'dd', label: 'dd', mx: 502, tx: 538, y: 30 },
  { m: 'd1max', label: 'd1max', mx: 502, tx: 538, y: 57 },
  { m: 'dd1max', label: 'dd1max', mx: 663, tx: 699, y: 30 },
  { m: 'd8max', label: 'd8max', mx: 663, tx: 699, y: 57 },
  { m: 'dd8max', label: 'dd8max', mx: 835, tx: 874, y: 30 }
];
const legend = svg.append('g');
legend.append('rect')
  .attr('x', 370.5).attr('y', 12.5).attr('width', 591).attr('height', 62).attr('rx', 4)
  .attr('fill', '#fff').attr('stroke', '#d0d0d0');
legend.selectAll('path').data(legendItems).join('path')
  .attr('d', d => shapes[d.m])
  .attr('transform', d => `translate(${d.mx},${d.y}) scale(0.9)`)
  .attr('fill', d => d.m === 'h' ? 'none' : '#000')
  .attr('stroke', '#000')
  .attr('stroke-width', d => d.m === 'h' ? 1.3 : 0.5);
legend.selectAll('text').data(legendItems).join('text')
  .attr('x', d => d.tx).attr('y', d => d.y)
  .attr('dy', '0.35em')
  .attr('font-size', fontSize)
  .text(d => d.label);
</script>
</body>
</html>
